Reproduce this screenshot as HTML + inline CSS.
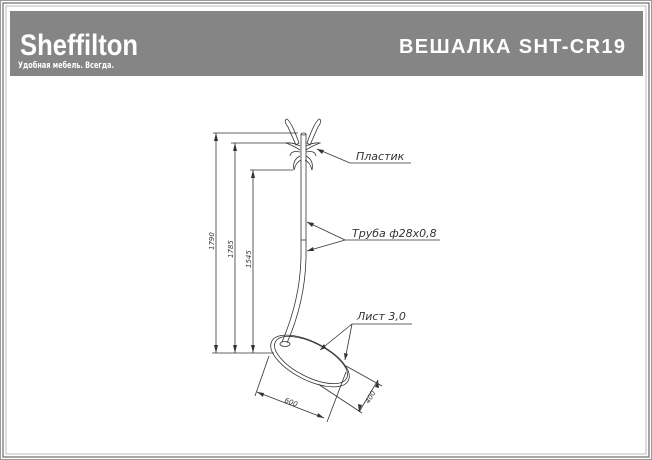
<!DOCTYPE html>
<html><head><meta charset="utf-8"><style>
html,body{margin:0;padding:0;background:#fff;width:652px;height:460px;overflow:hidden}
</style></head><body>
<svg width="652" height="460" viewBox="0 0 652 460" xmlns="http://www.w3.org/2000/svg" font-family="Liberation Sans, sans-serif">
<rect x="0.5" y="0.5" width="651" height="459" fill="#fff" stroke="#999" stroke-width="1"/>
<rect x="3" y="3" width="646" height="454" fill="none" stroke="#888" stroke-width="1.5"/>
<rect x="6" y="6" width="640" height="448" fill="none" stroke="#aaa" stroke-width="0.8"/>
<rect x="10" y="11" width="633" height="65" fill="#858585"/>
<text x="20" y="55" fill="#fff" font-size="30" font-weight="bold" font-family="Liberation Sans Narrow, Liberation Sans, sans-serif" textLength="118" lengthAdjust="spacingAndGlyphs">Sheffilton</text>
<text x="18" y="68" fill="#fff" font-size="8.5" font-weight="bold" font-family="DejaVu Sans, sans-serif" textLength="96" lengthAdjust="spacingAndGlyphs">Удобная мебель. Всегда.</text>
<text x="625" y="53" fill="#fff" font-size="20" font-weight="bold" text-anchor="end" textLength="226">ВЕШАЛКА SHT-CR19</text>

<g stroke="#333" stroke-width="0.8" fill="none">
<line x1="213" y1="133" x2="298" y2="133"/>
<line x1="231" y1="143" x2="290" y2="143"/>
<line x1="250" y1="170" x2="293" y2="170"/>
<line x1="212" y1="353" x2="274" y2="353"/>
<line x1="216" y1="133" x2="216" y2="353"/>
<line x1="235" y1="143" x2="235" y2="353"/>
<line x1="253" y1="170" x2="253" y2="353"/>
<line x1="301" y1="134" x2="301" y2="258"/>
<line x1="306" y1="134" x2="306" y2="258"/>
<line x1="301" y1="240" x2="306" y2="240"/>
<path d="M301 258 Q300 300 282 342"/>
<path d="M306 258 Q305 302 287 343"/>
<ellipse cx="303.5" cy="134" rx="2.5" ry="1"/>
<path d="M288 127 Q283 120 287 119 Q292 123 299 143 L296 145 Z"/>
<path d="M318 127 Q323 120 319 119 Q314 123 307 143 L310 145 Z"/>
<path d="M300 146 Q292 142 286 143 Q294 146 300 150"/>
<path d="M306 146 Q314 142 320 143 Q312 146 306 150"/>
<path d="M300 156 Q292 160 294 170 Q296 162 301 160"/>
<path d="M306 156 Q314 160 312 170 Q310 162 305 160"/>
<path d="M300 152 Q291 150 290 156"/>
<path d="M306 152 Q315 150 316 156"/>
<ellipse cx="310" cy="361" rx="43" ry="19" transform="rotate(27 310 361)"/>
<ellipse cx="311" cy="360" rx="40" ry="17" transform="rotate(27 311 360)"/>
<ellipse cx="285" cy="344" rx="5" ry="2.5"/>
<line x1="350" y1="163" x2="411" y2="163"/>
<line x1="350" y1="163" x2="317" y2="149"/>
<line x1="345" y1="240" x2="440" y2="240"/>
<line x1="345" y1="240" x2="307" y2="222"/>
<line x1="345" y1="240" x2="307" y2="251"/>
<line x1="352" y1="324" x2="412" y2="324"/>
<line x1="352" y1="324" x2="320" y2="350"/>
<line x1="352" y1="324" x2="345" y2="360"/>
<line x1="269" y1="356" x2="255" y2="396"/>
<line x1="346" y1="372" x2="327" y2="422"/>
<line x1="257" y1="392" x2="324" y2="418"/>
<line x1="346" y1="366" x2="382" y2="386"/>
<line x1="318" y1="384" x2="362" y2="413"/>
<line x1="378" y1="380" x2="359" y2="412"/>
</g>
<g fill="#333">
<polygon points="216,133 214,141 218,141"/><polygon points="216,353 214,345 218,345"/>
<polygon points="235,143 233,151 237,151"/><polygon points="235,353 233,345 237,345"/>
<polygon points="253,170 251,178 255,178"/><polygon points="253,353 251,345 255,345"/>
<polygon points="317,149 324,150 322,154"/>
<polygon points="307,222 314,223 312,227"/>
<polygon points="307,251 313,247 314,251"/>
<polygon points="320,350 324,344 326,348"/>
<polygon points="345,360 344,353 348,354"/>
<polygon points="257,392 264,393 263,397"/><polygon points="324,418 317,417 318,413"/>
<polygon points="378,380 375,387 379,388"/><polygon points="359,412 362,405 358,404"/>
</g>
<g fill="#333" font-style="italic" font-family="DejaVu Sans, sans-serif">
<text x="356" y="160" font-size="11">Пластик</text>
<text x="352" y="237" font-size="11">Труба ф28х0,8</text>
<text x="357" y="320" font-size="11">Лист 3,0</text>
<text font-size="7" transform="translate(214,250) rotate(-90)">1790</text>
<text font-size="7" transform="translate(233,258) rotate(-90)">1785</text>
<text font-size="7" transform="translate(251,268) rotate(-90)">1545</text>
<text font-size="7" transform="translate(284,402) rotate(21)">600</text>
<text font-size="7" transform="translate(369,404) rotate(-60)">400</text>
</g>
</svg>
</body></html>
